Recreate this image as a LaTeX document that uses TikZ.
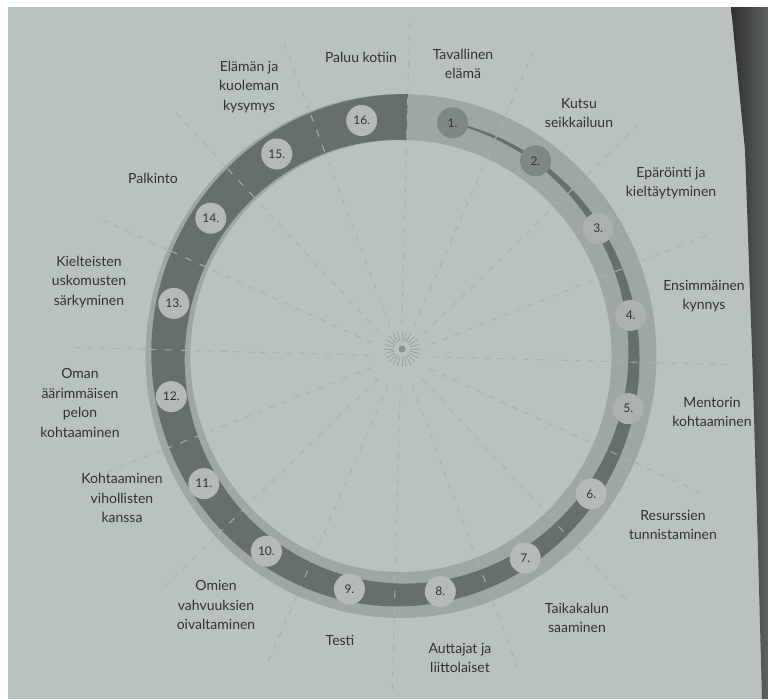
\documentclass[tikz,border=0pt]{standalone}
\usepackage{fontspec}
\setmainfont{Lato}
\usetikzlibrary{calc}
\definecolor{page}{RGB}{186,194,193}
\definecolor{ringlight}{RGB}{158,167,166}
\definecolor{band}{RGB}{102,110,110}
\definecolor{dotlight}{RGB}{180,186,185}
\definecolor{dotmid}{RGB}{170,177,176}
\definecolor{dotdark}{RGB}{128,135,135}
\definecolor{ink}{RGB}{48,51,51}
\definecolor{spoke}{RGB}{170,178,177}
\definecolor{spokelight}{RGB}{168,175,174}
\tikzset{
  numdot/.style={circle, fill=#1, minimum size=31pt, inner sep=0pt,
    text=ink, font=\fontsize{12}{12}\selectfont},
  stagelabel/.style={align=center, text=ink, inner sep=0pt,
    font=\fontsize{14}{19.5}\selectfont},
  spokeline/.style={draw=spoke, line width=1pt, dash pattern=on 6pt off 7pt},
  tickline/.style={draw=spokelight, line width=1pt, dash pattern=on 7pt off 9pt},
}

\begin{document}
\begin{tikzpicture}[x=1pt,y=-1pt]
  \useasboundingbox (0,0) rectangle (768,699);
  \fill[white] (0,0) rectangle (768,699);
  \fill[page] (8,7) rectangle (768,699);

  %% the ring
  \begin{scope}[shift={(401,356)}, rotate=-1.5, xscale=0.975]
    \foreach \a in {0,22.5,...,337.5}{
      \draw[spokeline] (\a:32) -- (\a:216);
      \draw[spokeline] (\a:263) -- (\a:335);
    }
    \fill[ringlight, even odd rule] (0,0) circle (262) (0,0) circle (216);
    %% band getting wider from 1. to 16.
    \fill[band] plot[domain=11.25:360, samples=150] ({\x-90}:{239+23*\x/360})
      -- plot[domain=360:11.25, samples=150] ({\x-90}:{239-23*\x/360}) -- cycle;
    \foreach \a in {0,22.5,...,337.5}{
      \draw[tickline] (\a:219) -- (\a:260);
    }
    %% stage numbers
    \foreach \k/\c in {1/dotdark, 2/dotdark, 3/dotmid, 4/dotmid, 5/dotmid,
                       6/dotlight, 7/dotlight, 8/dotlight, 9/dotlight,
                       10/dotlight, 11/dotlight, 12/dotlight, 13/dotlight,
                       14/dotlight, 15/dotlight, 16/dotlight}{
      \node[numdot=\c] (n\k) at ({11.25+22.5*(\k-1)-90}:239) {\k.};
    }
  \end{scope}

  %% centre burst
  \foreach \a in {0,15,...,345}{
    \draw[spoke!92!black, line width=0.9pt] ($(402,349)+(\a:8)$) -- ($(402,349)+(\a:18)$);
  }
  \fill[spoke!82!black] (402,349) circle (3.5);

  %% stage labels
  \foreach \nm/\pos/\txt in {
      tav/{463,64}/{Tavallinen\\elämä},
      kutsu/{579,113}/{Kutsu\\seikkailuun},
      epa/{671,183}/{Epäröinti ja\\kieltäytyminen},
      ens/{704,296}/{Ensimmäinen\\kynnys},
      ment/{712,412}/{Mentorin\\kohtaaminen},
      res/{673,525}/{Resurssien\\tunnistaminen},
      taika/{577,618}/{Taikakalun\\saaminen},
      autt/{460,658}/{Auttajat ja\\liittolaiset},
      testi/{340,640}/{Testi},
      omien/{216,605}/{Omien\\vahvuuksien\\oivaltaminen},
      kohtv/{122,498}/{Kohtaaminen\\vihollisten\\kanssa},
      oman/{80,403}/{Oman\\äärimmäisen\\pelon\\kohtaaminen},
      kiel/{89,282}/{Kielteisten\\uskomusten\\särkyminen},
      palk/{153,178}/{Palkinto},
      elam/{249,87}/{Elämän ja\\kuoleman\\kysymys},
      paluu/{361,57}/{Paluu kotiin}}{
    \node[stagelabel] (\nm) at (\pos) {\txt};
  }

  %% book binding shadow
  \shade[left color=black!75!page, right color=black!50!page]
    (731,7) -- (768,7) -- (768,699) -- (762,699) -- (758,550)
    -- (752,350) -- (745,150) -- cycle;
\end{tikzpicture}
\end{document}
